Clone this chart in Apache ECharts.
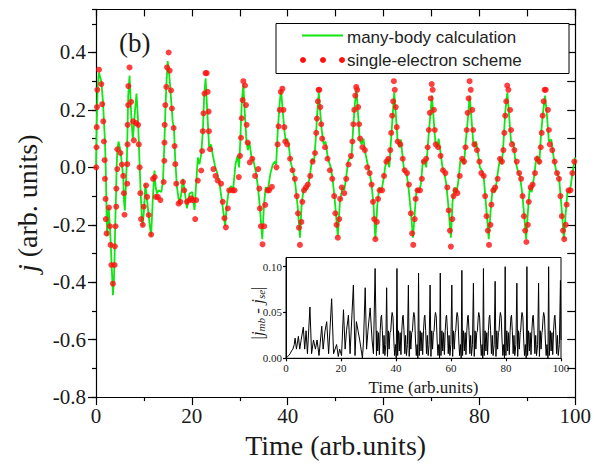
<!DOCTYPE html>
<html><head><meta charset="utf-8">
<script src="https://cdn.jsdelivr.net/npm/echarts@6/dist/echarts.min.js"></script>
<style>html,body{margin:0;padding:0;background:#fff}#c{width:594px;height:464px}</style>
</head><body><div id="c"></div>
<script>
// ---------- data ----------
const xTickLabels = [0, 20, 40, 60, 80, 100];
const yTickLabels = [-0.8, -0.6, -0.4, -0.2, 0.0, 0.2, 0.4];
const insetYTickLabels = [0.00, 0.05, 0.10];
const seriesNames = ['many-body calculation', 'single-electron scheme'];

// many-body calculation (green line): [time, j]
const manyBody = [
[0,0.0],[0.15,0.15],[0.35,0.28],[0.62,0.33],[1.1,0.30],[1.45,0.23],[1.66,0.16],[1.87,0.09],[2.0,0.02],[2.08,-0.046],[2.15,-0.11],[2.22,-0.18],[2.35,-0.24],[2.63,-0.14],[2.9,-0.205],[3.1,-0.27],[3.25,-0.34],[3.46,-0.41],[3.53,-0.445],[3.74,-0.39],[3.88,-0.31],[4.0,-0.205],[4.15,-0.114],[4.29,-0.011],[4.43,0.057],[4.7,0.09],[5.12,0.057],[5.47,0.0],[5.68,-0.034],[5.82,-0.114],[6.02,-0.15],[6.23,-0.07],[6.44,0.023],[6.58,0.137],[6.72,0.25],[7.0,0.32],[7.2,0.24],[7.41,0.16],[7.68,0.10],[7.89,0.137],[8.17,0.205],[8.45,0.257],[8.72,0.18],[8.93,0.09],[9.14,-0.011],[9.42,-0.126],[9.69,-0.205],[9.97,-0.16],[10.3,-0.057],[10.66,-0.114],[11.0,-0.17],[11.5,-0.24],[11.84,-0.114],[12.2,-0.011],[12.46,-0.07],[12.74,-0.091],[13.08,-0.08],[13.64,-0.086],[13.98,-0.046],[14.26,0.08],[14.47,0.194],[14.68,0.285],[14.95,0.37],[15.3,0.32],[15.65,0.24],[16.0,0.16],[16.27,0.137],[16.54,0.023],[16.9,-0.07],[17.38,-0.126],[17.72,-0.10],[18.14,-0.04],[18.56,-0.091],[18.97,-0.143],[19.52,-0.091],[20.08,-0.086],[20.56,-0.148],[20.9,-0.057],[21.25,0.034],[21.6,0.011],[21.95,0.046],[22.3,0.126],[22.57,0.25],[22.87,0.31],
[23.2,0.2],[23.6,0.07],[24.0,0.08],[24.4,0.04],[24.9,0.0],[25.3,-0.02],[25.8,-0.06],[26.3,-0.12],[26.95,-0.205],[27.3,-0.13],[27.7,-0.08],[28.2,-0.065],[28.6,-0.08],[29.1,0.01],[29.5,0.04],[29.85,0.0],[30.1,0.09],[30.4,0.22],[30.74,0.29],
[31.05,0.19],[31.4,0.09],[31.7,0.06],[32.0,0.09],[32.4,0.04],[32.9,0.02],[33.4,-0.02],[33.8,-0.07],[34.2,-0.14],[34.7,-0.25],[35.05,-0.13],[35.4,-0.07],[35.9,-0.075],[36.4,-0.02],[36.9,0.01],[37.3,0.02],[37.6,0.01],[37.9,0.12],[38.3,0.22],[38.61,0.27],
[38.95,0.2],[39.3,0.13],[39.6,0.09],[39.9,0.1],[40.2,0.08],[40.6,0.02],[41.2,-0.02],[41.6,-0.06],[42.1,-0.14],[42.55,-0.245],[42.95,-0.12],[43.4,-0.07],[43.9,-0.08],[44.3,-0.06],[44.7,-0.02],[45.1,0.03],[45.5,0.02],[45.9,0.11],[46.2,0.2],[46.48,0.26],
[46.8,0.19],[47.1,0.13],[47.5,0.08],[47.9,0.09],[48.4,0.03],[49.0,0.0],[49.4,-0.045],[49.8,-0.11],[50.45,-0.24],[50.9,-0.12],[51.4,-0.07],[51.8,-0.08],[52.2,-0.035],[52.6,0.02],[53.0,0.035],[53.3,0.03],[53.6,0.12],[54.0,0.22],[54.35,0.27],
[54.7,0.18],[55.0,0.1],[55.4,0.08],[55.8,0.1],[56.2,0.05],[56.7,0.01],[57.1,-0.02],[57.5,-0.06],[57.9,-0.13],[58.3,-0.25],[58.7,-0.13],[59.1,-0.07],[59.6,-0.08],[60.0,-0.04],[60.5,0.02],[60.9,0.03],[61.2,0.0],[61.5,0.08],[61.9,0.18],[62.22,0.26],
[62.5,0.2],[62.9,0.1],[63.3,0.07],[63.6,0.097],[63.9,0.05],[64.3,-0.015],[64.8,-0.02],[65.2,-0.07],[65.6,-0.137],[66.15,-0.245],[66.6,-0.137],[66.9,-0.074],[67.4,-0.086],[67.8,-0.057],[68.2,0.023],[68.6,0.023],[68.9,0.0],[69.3,0.09],[69.7,0.17],[70.09,0.25],
[70.4,0.18],[70.8,0.09],[71.2,0.07],[71.5,0.1],[71.9,0.05],[72.3,0.0],[72.7,-0.02],[73.1,-0.06],[73.5,-0.13],[74.05,-0.245],[74.4,-0.12],[74.8,-0.07],[75.2,-0.09],[75.6,-0.05],[76.0,0.02],[76.4,0.03],[76.8,0.01],[77.1,0.08],[77.6,0.17],[77.96,0.25],
[78.3,0.18],[78.7,0.09],[79.0,0.07],[79.3,0.09],[79.7,0.05],[80.1,0.0],[80.5,-0.01],[80.9,-0.034],[81.3,-0.114],[81.95,-0.25],[82.4,-0.137],[82.8,-0.07],[83.3,-0.086],[83.8,-0.023],[84.3,0.034],[84.7,0.011],[85.0,0.08],[85.4,0.194],[85.83,0.26],
[86.2,0.18],[86.6,0.09],[87.1,0.086],[87.5,0.023],[88.0,-0.011],[88.5,-0.034],[89.0,-0.1],[89.75,-0.25],[90.1,-0.16],[90.5,-0.07],[90.9,-0.086],[91.4,-0.034],[91.8,0.023],[92.1,0.04],[92.5,0.011],[92.8,0.1],[93.2,0.18],[93.7,0.25],
[94.1,0.18],[94.5,0.09],[95.0,0.097],[95.5,0.034],[96.0,-0.011],[96.6,-0.034],[96.95,-0.1],[97.65,-0.25],[98.0,-0.16],[98.4,-0.08],[98.85,-0.09],[99.3,-0.034],[99.6,0.0],[100,0.035]
];

// single-electron scheme (red dots): [time, j]
const singleElectron = [
[0.05,0.0],[0.1,0.07],[0.15,0.14],[0.2,0.21],[0.28,0.27],[0.62,0.34],[1.1,0.29],[1.3,0.22],[1.52,0.16],[1.66,0.09],[1.8,0.025],[1.87,-0.04],[2.0,-0.11],[2.05,-0.18],[2.22,-0.23],[2.7,-0.14],[2.9,-0.205],[3.05,-0.27],[3.2,-0.34],[3.53,-0.405],[3.88,-0.34],[3.92,-0.275],[4.08,-0.205],[4.22,-0.137],[4.25,-0.074],[4.43,-0.006],[4.45,0.063],[5.1,0.05],[5.4,0.01],[5.68,-0.03],[5.82,-0.09],[5.95,-0.165],[6.5,-0.057],[6.52,0.011],[6.58,0.08],[6.6,0.148],[6.72,0.217],[6.75,0.283],[7.0,0.348],[7.34,0.228],[7.75,0.16],[7.89,0.094],[8.38,0.154],[8.79,0.148],[8.93,0.08],[9.1,0.0],[9.25,-0.09],[9.4,-0.18],[9.76,-0.2],[9.97,-0.137],[10.45,-0.063],[10.66,-0.103],[11.0,-0.166],[11.5,-0.234],[11.9,-0.04],[12.25,-0.034],[12.5,-0.103],[12.9,-0.103],[13.43,-0.114],[14.12,-0.051],[14.26,0.023],[14.28,0.086],[14.33,0.148],[14.47,0.217],[14.68,0.28],[14.82,0.348],[15.16,0.40],[15.37,0.337],[15.65,0.268],[15.85,0.205],[16.2,0.137],[16.4,0.074],[16.55,0.011],[16.75,-0.057],[17.24,-0.126],[17.6,-0.12],[18.14,-0.051],[18.4,-0.08],[18.97,-0.12],[19.5,-0.114],[19.87,-0.108],[20.2,-0.114],[20.7,-0.18],[20.9,-0.114],[21.25,-0.046],[21.95,-0.011],[22.15,0.057],[22.3,0.126],[22.43,0.188],[22.64,0.257],[22.85,0.328],[23.1,0.328],[23.3,0.263],[23.5,0.194],[23.55,0.126],[23.8,0.063],[24.5,-0.006],[24.95,-0.03],[25.4,-0.046],[26.1,-0.057],[26.45,-0.12],[26.8,-0.177],[27.1,-0.209],[27.5,-0.143],[27.8,-0.08],[28.5,-0.08],[28.9,-0.08],[29.8,-0.034],[30.05,0.04],[30.25,0.103],[30.4,0.171],[30.6,0.234],[30.74,0.30],[31.1,0.285],[31.3,0.217],[31.43,0.148],[31.65,0.086],[32.1,0.017],[32.6,0.03],[33.2,-0.03],[33.85,-0.006],[34.07,-0.074],[34.2,-0.143],[34.4,-0.205],[34.75,-0.268],[35.1,-0.205],[35.3,-0.131],[35.8,-0.08],[36.1,-0.08],[36.7,-0.068],[37.65,0.0],[37.9,0.08],[38.1,0.143],[38.35,0.2],[38.56,0.263],[38.9,0.274],
[39.1,0.2],[39.3,0.14],[39.5,0.09],[39.9,0.08],[40.5,0.03],[41.0,-0.01],[41.5,-0.04],[41.9,-0.1],[42.15,-0.16],[42.35,-0.21],[42.55,-0.27],[42.85,-0.19],[43.05,-0.12],[43.4,-0.08],[43.8,-0.07],[44.2,-0.06],[44.7,-0.03],[45.2,0.02],[45.7,0.05],[45.95,0.12],[46.1,0.17],[46.3,0.23],[46.45,0.27],[46.6,0.27],
[46.8,0.21],[47.0,0.15],[47.2,0.1],[47.8,0.07],[48.3,0.03],[48.8,-0.01],[49.3,-0.04],[49.7,-0.1],[49.95,-0.16],[50.2,-0.2],[50.45,-0.245],[50.75,-0.18],[50.95,-0.11],[51.3,-0.07],[51.8,-0.09],[52.2,-0.04],[52.7,0.01],[53.2,0.04],[53.5,0.09],[53.7,0.15],[53.9,0.2],[54.1,0.25],[54.3,0.28],[54.5,0.27],
[54.7,0.21],[54.9,0.15],[55.1,0.1],[55.6,0.07],[56.1,0.06],[56.6,0.0],[57.1,-0.02],[57.5,-0.06],[57.8,-0.12],[58.05,-0.18],[58.3,-0.25],[58.6,-0.19],[58.85,-0.11],[59.2,-0.08],[59.7,-0.08],[60.1,-0.03],[60.6,0.02],[61.0,0.03],[61.4,0.06],[61.6,0.12],[61.8,0.18],[62.0,0.23],[62.15,0.3],[62.35,0.27],
[62.55,0.21],[62.75,0.14],[62.95,0.09],[63.5,0.08],[64.0,0.03],[64.4,-0.01],[64.9,-0.02],[65.3,-0.06],[65.7,-0.16],[65.95,-0.23],[66.2,-0.27],[66.5,-0.18],[66.7,-0.11],[67.1,-0.08],[67.6,-0.08],[68.0,-0.04],[68.4,0.02],[68.9,0.03],[69.2,0.07],[69.45,0.13],[69.65,0.19],[69.85,0.24],[70.05,0.29],[70.25,0.27],
[70.5,0.2],[70.7,0.13],[70.9,0.08],[71.4,0.07],[71.9,0.04],[72.4,-0.01],[72.9,-0.02],[73.3,-0.07],[73.6,-0.15],[73.85,-0.22],[74.05,-0.276],[74.35,-0.18],[74.6,-0.1],[75.0,-0.08],[75.4,-0.09],[75.9,-0.03],[76.4,0.03],[76.8,0.02],[77.1,0.07],[77.35,0.13],[77.55,0.19],[77.75,0.24],[77.95,0.3],[78.2,0.27],
[78.5,0.2],[78.7,0.13],[78.95,0.08],[79.5,0.06],[80.0,0.02],[80.4,-0.02],[80.9,-0.03],[81.2,-0.1],[81.5,-0.17],[81.75,-0.22],[82.0,-0.27],[82.3,-0.2],[82.5,-0.13],[82.9,-0.08],[83.3,-0.07],[83.8,-0.04],[84.3,0.03],[84.7,0.02],[85.0,0.06],[85.2,0.12],[85.4,0.18],[85.6,0.23],[85.8,0.285],[86.05,0.27],
[86.4,0.2],[86.6,0.13],[86.8,0.08],[87.3,0.06],[87.8,0.02],[88.3,-0.02],[88.7,-0.04],[89.0,-0.1],[89.3,-0.17],[89.55,-0.22],[89.8,-0.26],[90.1,-0.2],[90.3,-0.12],[90.7,-0.07],[91.1,-0.06],[91.6,-0.02],[92.0,0.03],[92.5,0.02],[92.8,0.07],[93.0,0.12],[93.2,0.18],[93.4,0.23],[93.6,0.27],[93.85,0.27],
[94.3,0.2],[94.5,0.13],[94.7,0.08],[95.2,0.06],[95.7,0.02],[96.2,-0.02],[96.6,-0.04],[96.9,-0.1],[97.2,-0.17],[97.45,-0.22],[97.7,-0.25],[98.0,-0.2],[98.2,-0.13],[98.6,-0.08],[99.0,-0.08],[99.4,-0.02],[99.8,0.02]
];

// inset: |j_mb - j_se| : [time, value]
const differenceData = [
[0,0.0],[0.5,0.002],[1,0.003],[1.5,0.005],[2,0.008],[2.5,0.01],[3,0.015],[3.3,0.022],[3.8,0.01],[4.5,0.024],[5,0.01],[5.5,0.02],[6.3,0.034],[6.8,0.01],[7.3,0.03],[7.8,0.005],[8.7,0.056],[9.3,0.005],[10,0.02],[10.7,0.01],[11.3,0.02],[12,0.003],[13,0.035],[13.5,0.01],[14.2,0.03],[14.8,0.04],[15.5,0.005],[16.6,0.065],[17.3,0.005],[18.4,0.015],[19,0.002],[19.5,0.01],[20.2,0.003],[20.9,0.053],[21.5,0.01],[22,0.03],[22.7,0.047],[23.3,0.005],[24.5,0.08],[25.1,0.003],[25.6,0.04],[26.2,0.03],[26.8,0.02],[27.3,0.01],[27.8,0.0],[28.2,0.02],[28.8,0.077],[29.3,0.01],[29.8,0.03],[30.6,0.055],[31.3,0.02],[31.8,0.005],[32.4,0.098],[32.9,0.003],
[33.05,0.03],[33.35,0.008],[33.65,0.028],[33.95,0.004],[34.25,0.03],[34.55,0.045],[34.75,0.047],[35.05,0.03],[35.35,0.005],[35.65,0.025],[35.95,0.003],[36.3,0.015],[36.6,0.077],[36.9,0.002],[37.2,0.03],[37.5,0.01],[37.8,0.028],
[38.1,0.03],[38.4,0.045],[38.6,0.05],[38.9,0.045],[39.2,0.02],[39.5,0.003],[39.8,0.015],[40.1,0.0],[40.35,0.098],[40.6,0.003],[40.9,0.03],[41.2,0.008],[41.5,0.028],[41.8,0.004],[42.1,0.03],[42.4,0.045],[42.6,0.047],[42.9,0.03],[43.2,0.005],[43.5,0.025],[43.8,0.003],[44.15,0.015],[44.5,0.08],[44.8,0.002],[45.1,0.03],[45.4,0.01],[45.7,0.028],
[45.98,0.03],[46.28,0.045],[46.48,0.05],[46.78,0.045],[47.08,0.02],[47.38,0.003],[47.68,0.015],[47.95,0.0],[48.2,0.093],[48.45,0.003],[48.8,0.03],[49.1,0.008],[49.4,0.028],[49.7,0.004],[50.0,0.03],[50.3,0.045],[50.5,0.047],[50.8,0.03],[51.1,0.005],[51.4,0.025],[51.7,0.003],[52.05,0.015],[52.4,0.08],[52.7,0.002],[53.0,0.03],[53.3,0.01],[53.6,0.028],
[53.85,0.03],[54.15,0.045],[54.35,0.05],[54.65,0.045],[54.95,0.02],[55.25,0.003],[55.55,0.015],[55.85,0.0],[56.1,0.093],[56.35,0.003],[56.7,0.03],[57.0,0.008],[57.3,0.028],[57.6,0.004],[57.9,0.03],[58.2,0.045],[58.4,0.047],[58.7,0.03],[59.0,0.005],[59.3,0.025],[59.6,0.003],[59.95,0.015],[60.3,0.08],[60.6,0.002],[60.9,0.03],[61.2,0.01],[61.5,0.028],
[61.72,0.03],[62.02,0.045],[62.22,0.05],[62.52,0.045],[62.82,0.02],[63.12,0.003],[63.42,0.015],[63.7,0.0],[63.95,0.096],[64.2,0.003],[64.55,0.03],[64.85,0.008],[65.15,0.028],[65.45,0.004],[65.75,0.03],[66.05,0.045],[66.25,0.047],[66.55,0.03],[66.85,0.005],[67.15,0.025],[67.45,0.003],[67.8,0.015],[68.15,0.082],[68.45,0.002],[68.75,0.03],[69.05,0.01],[69.35,0.028],
[69.6,0.03],[69.9,0.045],[70.09,0.05],[70.4,0.045],[70.7,0.02],[71.0,0.003],[71.3,0.015],[71.55,0.0],[71.8,0.098],[72.05,0.003],[72.4,0.03],[72.7,0.008],[73.0,0.028],[73.3,0.004],[73.6,0.03],[73.9,0.045],[74.1,0.047],[74.4,0.03],[74.7,0.005],[75.0,0.025],[75.3,0.003],[75.7,0.015],[76.05,0.084],[76.35,0.002],[76.65,0.03],[76.95,0.01],[77.25,0.028],
[77.46,0.03],[77.76,0.045],[77.96,0.05],[78.26,0.045],[78.56,0.02],[78.86,0.003],[79.16,0.015],[79.45,0.0],[79.7,0.1],[79.95,0.003],[80.3,0.03],[80.6,0.008],[80.9,0.028],[81.2,0.004],[81.5,0.03],[81.8,0.045],[82.0,0.047],[82.3,0.03],[82.6,0.005],[82.9,0.025],[83.2,0.003],[83.6,0.015],[83.95,0.082],[84.25,0.002],[84.55,0.03],[84.85,0.01],[85.15,0.028],
[85.33,0.03],[85.63,0.045],[85.83,0.05],[86.13,0.045],[86.43,0.02],[86.73,0.003],[87.03,0.015],[87.35,0.0],[87.6,0.1],[87.85,0.003],[88.2,0.03],[88.5,0.008],[88.8,0.028],[89.1,0.004],[89.4,0.03],[89.7,0.045],[89.9,0.047],[90.2,0.03],[90.5,0.005],[90.8,0.025],[91.1,0.003],[91.5,0.015],[91.85,0.082],[92.15,0.002],[92.45,0.03],[92.75,0.01],[93.05,0.028],
[93.2,0.03],[93.5,0.045],[93.7,0.05],[94.0,0.045],[94.3,0.02],[94.6,0.003],[94.9,0.015],[95.25,0.0],[95.5,0.1],[95.75,0.003],[96.1,0.03],[96.4,0.008],[96.7,0.028],[97.0,0.004],[97.3,0.03],[97.6,0.045],[97.8,0.047],[98.1,0.03],[98.4,0.005],[98.7,0.025],[99.0,0.003],[99.4,0.015],[99.8,0.085],[100,0.02]
];

// ---------- chart ----------
const SERIF = 'Liberation Serif';
const SANS = 'Liberation Sans';
const TXT = '#1a1a1a';
const GREEN = '#12e612';
const RED = '#ff1010';
const chart = echarts.init(document.getElementById('c'), null, {renderer: 'svg'});

const lineStyleBlack = {color: '#000', width: 1.2};
const inTicks = (len) => ({show: true, inside: true, length: len, lineStyle: {color: '#000', width: 1.2}});
const outTicks = (len) => ({show: true, inside: false, length: len, lineStyle: {color: '#000', width: 1.2}});

const option = {
  animation: false,
  backgroundColor: '#fff',
  grid: [
    {left: 96, top: 9.4, width: 481.5, height: 394.2, show: false},
    {left: 286, top: 257.5, width: 275, height: 100.8, show: true, backgroundColor: '#fff', borderColor: '#000', borderWidth: 1}
  ],
  xAxis: [
    { // bottom main
      type: 'value', gridIndex: 0, position: 'bottom', min: 0, max: 100, interval: 20,
      axisLine: {show: true, onZero: false, lineStyle: lineStyleBlack},
      axisTick: outTicks(8),
      minorTick: {show: true, splitNumber: 2, length: 4, lineStyle: {color: '#000', width: 1.2}},
      splitLine: {show: false},
      axisLabel: {fontFamily: SERIF, fontSize: 21, color: TXT, margin: 8,
        formatter: v => xTickLabels.includes(v) ? String(v) : ''},
      name: 'Time (arb.units)', nameLocation: 'middle', nameGap: 31,
      nameTextStyle: {fontFamily: SERIF, fontSize: 28, color: TXT}
    },
    { // top main (mirror)
      type: 'value', gridIndex: 0, position: 'top', min: 0, max: 100, interval: 10,
      axisLine: {show: true, onZero: false, lineStyle: lineStyleBlack},
      axisTick: inTicks(7), axisLabel: {show: false}, splitLine: {show: false}
    },
    { // inset x
      type: 'value', gridIndex: 1, position: 'bottom', min: 0, max: 100, interval: 20,
      axisLine: {show: true, onZero: false, lineStyle: {color: '#000', width: 1}},
      axisTick: outTicks(3), splitLine: {show: false},
      axisLabel: {fontFamily: SERIF, fontSize: 11, color: TXT, margin: 4},
      name: 'Time (arb.units)', nameLocation: 'middle', nameGap: 21,
      nameTextStyle: {fontFamily: SERIF, fontSize: 17, color: TXT}
    }
  ],
  yAxis: [
    { // left main
      type: 'value', gridIndex: 0, position: 'left', min: -0.8, max: 0.55, interval: 0.2,
      axisLine: {show: true, onZero: false, lineStyle: lineStyleBlack},
      axisTick: outTicks(8), splitLine: {show: false},
      axisLabel: {fontFamily: SERIF, fontSize: 21, color: TXT, margin: 10, showMaxLabel: false,
        formatter: v => yTickLabels.some(t => Math.abs(t - v) < 1e-9) ? v.toFixed(1) : ''},
      name: '{i|j} (arb. units)', nameLocation: 'middle', nameGap: 54,
      nameTextStyle: {fontFamily: SERIF, fontSize: 28, color: TXT,
        rich: {i: {fontFamily: SERIF, fontSize: 28, fontStyle: 'italic', color: TXT}}}
    },
    { // left minor ticks
      type: 'value', gridIndex: 0, position: 'left', min: -0.8, max: 0.55, interval: 0.1,
      axisLine: {show: false}, axisTick: outTicks(4), axisLabel: {show: false}, splitLine: {show: false}
    },
    { // right mirror
      type: 'value', gridIndex: 0, position: 'right', min: -0.8, max: 0.55, interval: 0.1,
      axisLine: {show: true, onZero: false, lineStyle: lineStyleBlack},
      axisTick: inTicks(8), axisLabel: {show: false}, splitLine: {show: false}
    },
    { // inset y
      type: 'value', gridIndex: 1, position: 'left', min: 0, max: 0.11, interval: 0.05,
      axisLine: {show: true, onZero: false, lineStyle: {color: '#000', width: 1}},
      axisTick: outTicks(3), splitLine: {show: false},
      axisLabel: {fontFamily: SERIF, fontSize: 11, color: TXT, margin: 4, showMaxLabel: false,
        formatter: v => insetYTickLabels.some(t => Math.abs(t - v) < 1e-9) ? v.toFixed(2) : ''}
    }
  ],
  series: [
    {name: seriesNames[0], type: 'line', xAxisIndex: 0, yAxisIndex: 0, data: manyBody,
     showSymbol: false, lineStyle: {color: GREEN, width: 1.8}, z: 3},
    {name: seriesNames[1], type: 'scatter', xAxisIndex: 0, yAxisIndex: 0, data: singleElectron,
     symbol: 'circle', symbolSize: 6, itemStyle: {color: RED}, z: 4},
    {name: 'difference', type: 'line', xAxisIndex: 2, yAxisIndex: 3, data: differenceData,
     showSymbol: false, lineStyle: {color: '#000', width: 1}, z: 3}
  ],
  graphic: [
    {type: 'text', left: 119, top: 29, style: {text: '(b)', fontFamily: SERIF, fontSize: 27, fill: TXT}},
    {type: 'rect', shape: {x: 276, y: 23.5, width: 293, height: 50}, style: {fill: '#fff', stroke: '#000', lineWidth: 1}, z: 10},
    {type: 'line', shape: {x1: 302, y1: 35.5, x2: 343, y2: 35.5}, style: {stroke: GREEN, lineWidth: 1.8}, z: 11},
    {type: 'circle', shape: {cx: 303, cy: 60, r: 3}, style: {fill: RED}, z: 11},
    {type: 'circle', shape: {cx: 323, cy: 60, r: 3}, style: {fill: RED}, z: 11},
    {type: 'circle', shape: {cx: 342, cy: 60, r: 3}, style: {fill: RED}, z: 11},
    {type: 'text', x: 347, y: 37, z: 11, style: {text: seriesNames[0], fontFamily: SANS, fontSize: 17, fill: '#222', verticalAlign: 'middle'}},
    {type: 'text', x: 347, y: 60, z: 11, style: {text: seriesNames[1], fontFamily: SANS, fontSize: 17, fill: '#222', verticalAlign: 'middle'}},
    {type: 'text', x: 257, y: 313, rotation: Math.PI / 2, z: 11,
     style: {text: '|{i|j}{s|mb}{n| - }{i|j}{s|se}|', fontFamily: SERIF, fontSize: 17, fill: TXT,
       align: 'center', verticalAlign: 'middle',
       rich: {i: {fontFamily: SERIF, fontSize: 17, fontStyle: 'italic', fill: TXT, lineHeight: 19},
              s: {fontFamily: SERIF, fontSize: 11, fontStyle: 'italic', fill: TXT, verticalAlign: 'bottom', lineHeight: 11},
              n: {fontFamily: SERIF, fontSize: 17, fill: TXT, lineHeight: 19}}}}
  ]
};
chart.setOption(option);
</script>
</body></html>
